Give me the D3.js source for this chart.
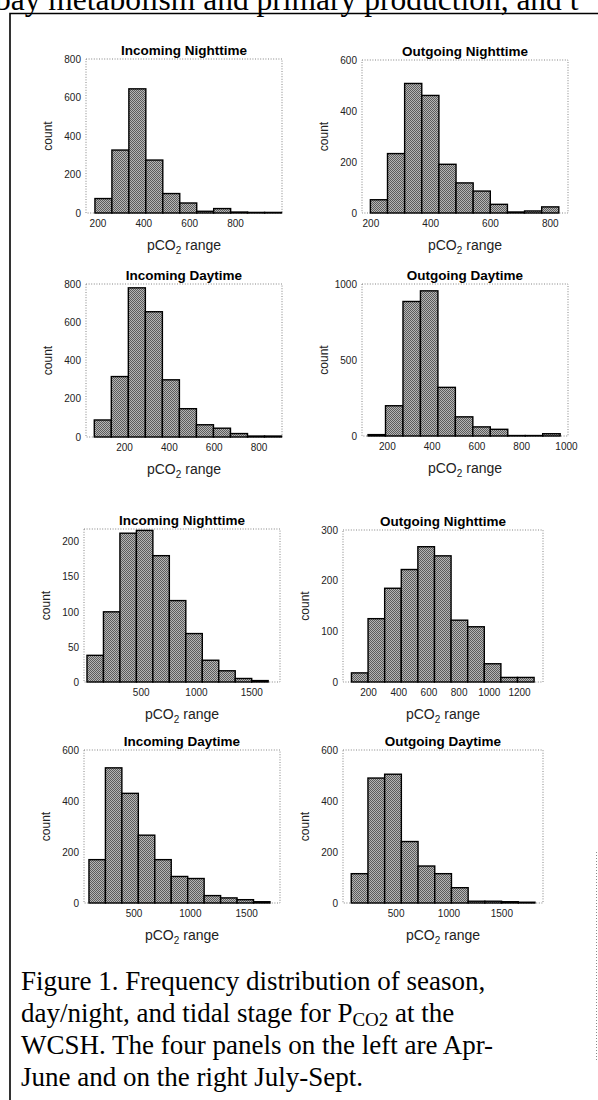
<!DOCTYPE html>
<html lang="en">
<head>
<meta charset="utf-8">
<title>pCO2 histograms</title>
<script src="https://cdn.jsdelivr.net/npm/d3@7"></script>
<style>
    body { margin: 0; background: #fff; }
    svg { display: block; }
</style>
</head>
<body>
<svg id="fig" width="598" height="1100"></svg>
<script>
    // panel titles, Apr-June (first four) then July-Sept
    const panelTitles = ["Incoming Nighttime", "Outgoing Nighttime", "Incoming Daytime", "Outgoing Daytime",
                         "Incoming Nighttime", "Outgoing Nighttime", "Incoming Daytime", "Outgoing Daytime"];

    // counts per bin
    const aprInNight  = [75, 327, 645, 275, 101, 52, 9, 23, 5, 3, 3];
    const aprOutNight = [52, 233, 508, 461, 191, 118, 86, 34, 4, 8, 24];
    const aprInDay    = [89, 316, 780, 655, 299, 148, 64, 46, 18, 5, 5];
    const aprOutDay   = [9, 199, 885, 955, 320, 126, 60, 44, 3, 3, 15];
    const julInNight  = [38, 100, 212, 216, 180, 116, 69, 31, 16, 5, 2];
    const julOutNight = [18, 125, 185, 222, 267, 249, 122, 109, 36, 9, 9];
    const julInDay    = [170, 530, 430, 266, 170, 104, 96, 29, 20, 13, 5];
    const julOutDay   = [115, 490, 505, 241, 145, 115, 60, 7, 7, 5, 3];
    const panelCounts = [aprInNight, aprOutNight, aprInDay, aprOutDay, julInNight, julOutNight, julInDay, julOutDay];

    // first bin edge and bin width (pCO2 units)
    const binStart = [189, 200, 67, 116, 14, 90, 105, 80];
    const binWidth = [74, 57.3, 76, 78, 149, 110, 146, 158];

    // axis limits and ticks
    const xMin = [150, 172, 30, 89, -13, 34, 61, 2];
    const xMax = [1005, 861, 905, 1009, 1760, 1359, 1800, 1894];
    const yMax = [800, 600, 800, 1000, 218, 300, 600, 600];
    const xTicks = [[200, 400, 600, 800], [200, 400, 600, 800], [200, 400, 600, 800], [200, 400, 600, 800, 1000],
                    [500, 1000, 1500], [200, 400, 600, 800, 1000, 1200], [500, 1000, 1500], [500, 1000, 1500]];
    const yTicks = [[0, 200, 400, 600, 800], [0, 200, 400, 600], [0, 200, 400, 600, 800], [0, 500, 1000],
                    [0, 50, 100, 150, 200], [0, 100, 200, 300], [0, 200, 400, 600], [0, 200, 400, 600]];

    const topLine = "bay metabolism and primary production, and t";
    const captionLines = [
        ["Figure 1. Frequency distribution of season,"],
        ["day/night, and tidal stage for P", "CO2", " at the"],
        ["WCSH. The four panels on the left are Apr-"],
        ["June and on the right July-Sept."]
    ];

    // where each axes box sits on the page
    const frames = [
        { x0: 86, x1: 282, y0: 59, y1: 213 },
        { x0: 362, x1: 568, y0: 60, y1: 213 },
        { x0: 86, x1: 282, y0: 284, y1: 437 },
        { x0: 362, x1: 568, y0: 284, y1: 436 },
        { x0: 84, x1: 280, y0: 529, y1: 682 },
        { x0: 343, x1: 543, y0: 530, y1: 682 },
        { x0: 84, x1: 280, y0: 750, y1: 903 },
        { x0: 343, x1: 543, y0: 750, y1: 903 }
    ];

    const svg = d3.select("#fig");
    const sans = "'Liberation Sans', Arial, sans-serif";
    const serif = "'Liberation Serif', 'Times New Roman', serif";
    const fmt = d3.format("d");

    // dithered grey fill like the scanned print
    const pat = svg.append("defs").append("pattern")
        .attr("id", "dither").attr("patternUnits", "userSpaceOnUse")
        .attr("width", 2).attr("height", 2);
    pat.append("rect").attr("width", 2).attr("height", 2).attr("fill", "#b5b5b5");
    pat.append("rect").attr("width", 1).attr("height", 1).attr("fill", "#5c5c5c");
    pat.append("rect").attr("x", 1).attr("y", 1).attr("width", 1).attr("height", 1).attr("fill", "#5c5c5c");

    // running text above and the figure frame
    svg.append("text").attr("x", -5).attr("y", 10)
        .attr("font-family", serif).attr("font-size", 31.5).text(topLine);
    svg.append("path").attr("d", "M10,1100 V13.5 H598")
        .attr("fill", "none").attr("stroke", "#000").attr("stroke-width", 1.6);
    // faint page edge on the right, lower half
    svg.append("line").attr("x1", 596.5).attr("x2", 596.5).attr("y1", 852).attr("y2", 1062)
        .attr("stroke", "#888").attr("stroke-width", 1).attr("stroke-dasharray", "1,2");

    frames.forEach((f, i) => {
        const x = d3.scaleLinear().domain([xMin[i], xMax[i]]).range([f.x0, f.x1]);
        const y = d3.scaleLinear().domain([0, yMax[i]]).range([f.y1, f.y0]);
        const g = svg.append("g");

        g.append("rect")
            .attr("x", f.x0).attr("y", f.y0)
            .attr("width", f.x1 - f.x0).attr("height", f.y1 - f.y0)
            .attr("fill", "none").attr("stroke", "#777")
            .attr("stroke-width", 0.9).attr("stroke-dasharray", "1,1.6");

        const bins = panelCounts[i].map((c, k) => ({
            x0: binStart[i] + k * binWidth[i],
            x1: binStart[i] + (k + 1) * binWidth[i],
            count: c
        }));

        g.selectAll("rect.bar")
            .data(bins)
            .join("rect")
            .attr("class", "bar")
            .attr("x", d => x(d.x0))
            .attr("width", d => x(d.x1) - x(d.x0))
            .attr("y", d => y(d.count))
            .attr("height", d => y(0) - y(d.count))
            .attr("fill", "url(#dither)")
            .attr("stroke", "#000")
            .attr("stroke-width", 1.4);

        const xa = g.append("g").attr("transform", `translate(0,${f.y1})`)
            .call(d3.axisBottom(x).tickValues(xTicks[i]).tickFormat(fmt).tickSize(0).tickPadding(7));
        const ya = g.append("g").attr("transform", `translate(${f.x0},0)`)
            .call(d3.axisLeft(y).tickValues(yTicks[i]).tickFormat(fmt).tickSize(0).tickPadding(5));
        [xa, ya].forEach(a => {
            a.select(".domain").remove();
            a.selectAll("text").attr("font-family", sans).attr("font-size", 10).attr("fill", "#222");
        });

        const cx = (f.x0 + f.x1) / 2;
        g.append("text").attr("x", cx).attr("y", f.y0 - 4)
            .attr("text-anchor", "middle").attr("font-family", sans)
            .attr("font-weight", "bold").attr("font-size", 13.5).text(panelTitles[i]);

        g.append("text")
            .attr("transform", `translate(${f.x0 - 34},${(f.y0 + f.y1) / 2}) rotate(-90)`)
            .attr("text-anchor", "middle").attr("font-family", sans)
            .attr("font-size", 12).attr("fill", "#222").text("count");

        const xl = g.append("text").attr("x", cx).attr("y", f.y1 + 37)
            .attr("text-anchor", "middle").attr("font-family", sans)
            .attr("font-size", 14).attr("fill", "#222");
        xl.append("tspan").text("pCO");
        xl.append("tspan").attr("font-size", 10).attr("dy", 4).text("2");
        xl.append("tspan").attr("dy", -4).text(" range");
    });

    // caption
    captionLines.forEach((parts, j) => {
        const t = svg.append("text").attr("x", 21).attr("y", 990 + j * 32)
            .attr("font-family", serif).attr("font-size", 27);
        parts.forEach((p, k) => {
            if (p === "CO2") {
                t.append("tspan").attr("font-size", 19).attr("dy", 4).text(p);
            } else if (k > 0 && parts[k - 1] === "CO2") {
                t.append("tspan").attr("dy", -4).text(p);
            } else {
                t.append("tspan").text(p);
            }
        });
    });
</script>
</body>
</html>
